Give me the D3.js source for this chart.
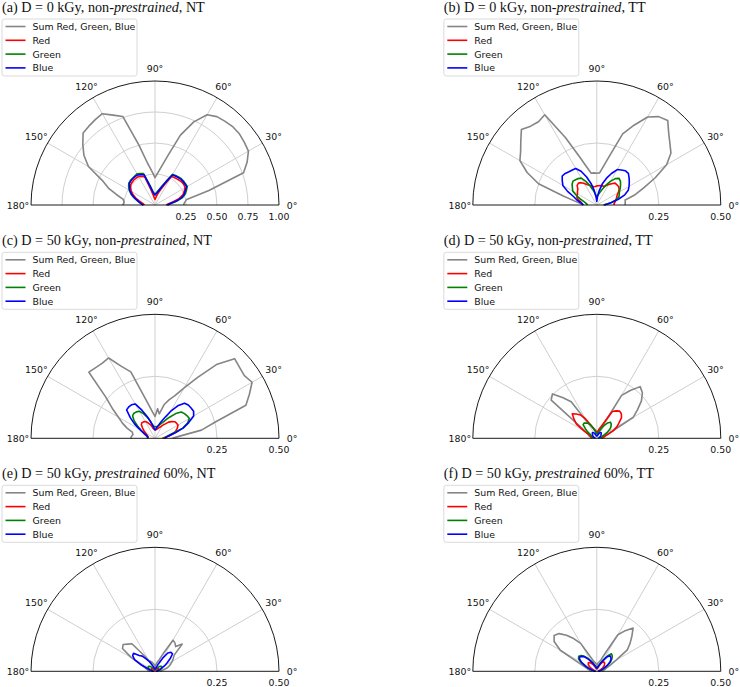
<!DOCTYPE html>
<html><head><meta charset="utf-8">
<script src="https://cdn.jsdelivr.net/npm/d3@7"></script>
<style>body{margin:0;background:#fff}svg{display:block}</style>
</head><body>
<svg id="chart" width="740" height="687"></svg>
<script>
// ---------- DATA ----------
const angles = [0,5,10,15,20,25,30,35,40,45,50,55,60,65,70,75,80,85,90,95,100,105,110,115,120,125,130,135,140,145,150,155,160,165,170,175,180];
const angleTicks = [0,30,60,90,120,150,180];
const rTicksFull = [0.25,0.50,0.75,1.00];
const rTicksHalf = [0.25,0.50];
const seriesNames = ["Sum Red, Green, Blue","Red","Green","Blue"];
const seriesColors = ["#858585","#ff0000","#008000","#0000ff"];

const titles = [
  [["(a) D = 0 kGy, non-",false],["prestrained",true],[", NT",false]],
  [["(b) D = 0 kGy, non-",false],["prestrained",true],[", TT",false]],
  [["(c) D = 50 kGy, non-",false],["prestrained",true],[", NT",false]],
  [["(d) D = 50 kGy, non-",false],["prestrained",true],[", TT",false]],
  [["(e) D = 50 kGy, ",false],["prestrained",true],[" 60%, NT",false]],
  [["(f) D = 50 kGy, ",false],["prestrained",true],[" 60%, TT",false]]
];
const rMaxes = [1.0,0.5,0.5,0.5,0.5,0.5];

const aSum  = [0.23,0.24,0.26,0.45,0.76,0.82,0.87,0.88,0.89,0.89,0.88,0.87,0.84,0.74,0.60,0.42,0.32,0.26,0.22,0.27,0.34,0.50,0.76,0.80,0.85,0.84,0.83,0.82,0.76,0.70,0.62,0.47,0.40,0.32,0.26,0.25,0.26];
const aRed  = [0.09,0.11,0.15,0.20,0.24,0.26,0.28,0.285,0.285,0.28,0.275,0.27,0.265,0.18,0.13,0.10,0.075,0.055,0.045,0.055,0.08,0.13,0.24,0.255,0.265,0.265,0.265,0.26,0.255,0.24,0.22,0.195,0.165,0.135,0.11,0.095,0.085];
const aGreen= [0.10,0.13,0.18,0.23,0.26,0.28,0.30,0.30,0.30,0.30,0.295,0.29,0.285,0.21,0.16,0.13,0.11,0.095,0.09,0.095,0.12,0.17,0.27,0.28,0.29,0.285,0.28,0.28,0.275,0.26,0.24,0.215,0.185,0.155,0.13,0.11,0.095];
const aBlue = [0.10,0.12,0.17,0.22,0.25,0.27,0.295,0.295,0.295,0.295,0.29,0.285,0.28,0.20,0.15,0.12,0.10,0.09,0.08,0.09,0.11,0.16,0.26,0.27,0.28,0.28,0.28,0.275,0.27,0.25,0.235,0.21,0.18,0.15,0.13,0.11,0.094];

const bSum  = [0.114,0.115,0.116,0.16,0.20,0.26,0.325,0.365,0.385,0.41,0.445,0.435,0.41,0.355,0.305,0.21,0.16,0.13,0.128,0.13,0.13,0.16,0.21,0.30,0.42,0.41,0.415,0.43,0.40,0.375,0.358,0.31,0.25,0.14,0.09,0.065,0.054];
const bRed  = [0.07,0.07,0.075,0.08,0.085,0.09,0.10,0.11,0.115,0.115,0.115,0.105,0.095,0.085,0.08,0.08,0.08,0.078,0.077,0.075,0.075,0.08,0.085,0.09,0.10,0.11,0.115,0.112,0.10,0.095,0.09,0.088,0.085,0.075,0.065,0.06,0.06];
const bGreen= [0.027,0.04,0.06,0.08,0.095,0.10,0.105,0.115,0.125,0.135,0.14,0.13,0.11,0.09,0.07,0.055,0.045,0.038,0.034,0.04,0.05,0.065,0.085,0.105,0.125,0.13,0.133,0.136,0.13,0.12,0.112,0.09,0.07,0.055,0.045,0.04,0.037];
const bBlue = [0.03,0.04,0.06,0.09,0.12,0.14,0.15,0.16,0.17,0.18,0.18,0.172,0.165,0.14,0.115,0.09,0.06,0.035,0.015,0.03,0.06,0.09,0.12,0.15,0.17,0.172,0.175,0.18,0.182,0.17,0.158,0.13,0.10,0.085,0.07,0.06,0.054];

const cSum  = [0.07,0.10,0.19,0.25,0.39,0.42,0.452,0.44,0.445,0.454,0.39,0.30,0.235,0.19,0.165,0.14,0.10,0.12,0.088,0.105,0.133,0.18,0.285,0.32,0.374,0.37,0.372,0.377,0.26,0.21,0.17,0.145,0.12,0.095,0.09,0.095,0.098];
const cRed  = [0.03,0.04,0.06,0.08,0.09,0.10,0.107,0.106,0.104,0.095,0.085,0.07,0.06,0.05,0.045,0.04,0.037,0.035,0.034,0.036,0.04,0.05,0.06,0.07,0.078,0.081,0.082,0.078,0.066,0.055,0.045,0.038,0.033,0.03,0.028,0.028,0.028];
const cGreen= [0.035,0.04,0.05,0.07,0.12,0.145,0.16,0.158,0.155,0.15,0.13,0.105,0.085,0.07,0.06,0.052,0.048,0.047,0.047,0.048,0.055,0.07,0.09,0.11,0.126,0.13,0.132,0.128,0.11,0.085,0.065,0.05,0.04,0.035,0.03,0.03,0.03];
const cBlue = [0.04,0.045,0.055,0.085,0.12,0.15,0.18,0.19,0.19,0.19,0.185,0.16,0.125,0.09,0.07,0.055,0.045,0.038,0.034,0.04,0.052,0.07,0.095,0.125,0.16,0.165,0.165,0.162,0.13,0.10,0.07,0.05,0.04,0.032,0.03,0.03,0.03];

const dSum  = [0.02,0.025,0.03,0.035,0.04,0.07,0.17,0.20,0.235,0.26,0.272,0.235,0.20,0.06,0.045,0.035,0.03,0.025,0.025,0.03,0.035,0.04,0.045,0.055,0.07,0.18,0.215,0.253,0.24,0.08,0.05,0.04,0.035,0.03,0.025,0.02,0.02];
const dRed  = [0.02,0.02,0.025,0.035,0.05,0.075,0.094,0.11,0.13,0.14,0.143,0.135,0.125,0.07,0.05,0.04,0.03,0.025,0.022,0.025,0.03,0.035,0.045,0.06,0.09,0.115,0.128,0.14,0.12,0.10,0.06,0.035,0.03,0.025,0.022,0.02,0.02];
const dGreen= [0.015,0.015,0.02,0.02,0.025,0.035,0.05,0.065,0.075,0.082,0.085,0.075,0.06,0.045,0.03,0.025,0.02,0.018,0.018,0.02,0.025,0.035,0.045,0.06,0.07,0.075,0.08,0.078,0.06,0.045,0.03,0.025,0.02,0.018,0.015,0.015,0.015];
const dBlue = [0.005,0.006,0.008,0.01,0.012,0.015,0.018,0.02,0.022,0.025,0.028,0.028,0.026,0.022,0.017,0.013,0.011,0.01,0.01,0.01,0.011,0.013,0.017,0.022,0.026,0.028,0.028,0.025,0.022,0.02,0.018,0.015,0.012,0.01,0.008,0.006,0.005];

const eSum  = [0.02,0.025,0.035,0.05,0.06,0.07,0.08,0.09,0.10,0.155,0.13,0.14,0.145,0.08,0.05,0.04,0.03,0.025,0.02,0.025,0.03,0.035,0.04,0.045,0.05,0.08,0.145,0.155,0.168,0.16,0.11,0.06,0.045,0.035,0.03,0.025,0.02];
const eRed  = [0.005,0.006,0.008,0.01,0.012,0.014,0.016,0.018,0.018,0.017,0.015,0.012,0.01,0.008,0.007,0.006,0.005,0.005,0.005,0.005,0.005,0.006,0.007,0.008,0.01,0.012,0.015,0.017,0.018,0.018,0.016,0.014,0.012,0.01,0.008,0.006,0.005];
const eGreen= [0.01,0.012,0.015,0.02,0.025,0.03,0.032,0.033,0.032,0.028,0.022,0.018,0.015,0.012,0.01,0.009,0.008,0.008,0.008,0.008,0.008,0.009,0.01,0.012,0.015,0.018,0.022,0.028,0.032,0.033,0.032,0.03,0.025,0.02,0.015,0.012,0.01];
const eBlue = [0.005,0.007,0.01,0.015,0.02,0.03,0.045,0.06,0.08,0.10,0.10,0.09,0.06,0.035,0.02,0.015,0.012,0.01,0.01,0.01,0.012,0.015,0.02,0.03,0.045,0.06,0.08,0.09,0.113,0.11,0.095,0.06,0.03,0.02,0.012,0.008,0.005];

const fSum  = [0.02,0.025,0.03,0.035,0.045,0.06,0.09,0.15,0.175,0.20,0.228,0.20,0.17,0.08,0.05,0.04,0.035,0.03,0.025,0.03,0.035,0.04,0.05,0.07,0.13,0.16,0.19,0.215,0.225,0.21,0.17,0.08,0.05,0.04,0.03,0.025,0.02];
const fRed  = [0.005,0.006,0.008,0.01,0.015,0.02,0.028,0.035,0.04,0.045,0.047,0.047,0.04,0.03,0.02,0.015,0.012,0.01,0.01,0.01,0.012,0.015,0.02,0.025,0.033,0.04,0.046,0.048,0.045,0.038,0.03,0.02,0.015,0.01,0.008,0.006,0.005];
const fGreen= [0.006,0.009,0.013,0.02,0.028,0.038,0.053,0.068,0.08,0.088,0.092,0.075,0.055,0.038,0.027,0.021,0.017,0.015,0.015,0.015,0.017,0.022,0.028,0.038,0.05,0.065,0.08,0.09,0.095,0.09,0.075,0.053,0.037,0.022,0.013,0.009,0.006];
const fBlue = [0.005,0.008,0.012,0.018,0.025,0.035,0.05,0.065,0.075,0.08,0.082,0.07,0.05,0.035,0.025,0.02,0.015,0.013,0.013,0.013,0.015,0.02,0.025,0.035,0.045,0.06,0.075,0.085,0.09,0.085,0.07,0.05,0.035,0.02,0.012,0.008,0.005];

const panelSeries = [
  [aSum,aRed,aGreen,aBlue],[bSum,bRed,bGreen,bBlue],
  [cSum,cRed,cGreen,cBlue],[dSum,dRed,dGreen,dBlue],
  [eSum,eRed,eGreen,eBlue],[fSum,fRed,fGreen,fBlue]
];

// ---------- LAYOUT ----------
const svg = d3.select("#chart");
const R = 124;
const colX = [155, 596.8];
const rowY = [205, 438.3, 671.3];
const sansFont = "'DejaVu Sans', sans-serif";
const serifFont = "'Liberation Serif', 'Times New Roman', serif";
const tickSize = 9.4;
const gridColor = "#cfcfcf";
const toD3 = deg => (90 - deg) * Math.PI / 180;

panelSeries.forEach((series, i) => {
  const cx = colX[i % 2], cy = rowY[Math.floor(i / 2)];
  const rMax = rMaxes[i];
  const rTicks = rMax === 1.0 ? rTicksFull : rTicksHalf;
  const r = d3.scaleLinear().domain([0, rMax]).range([0, R]);
  const g = svg.append("g").attr("transform", `translate(${cx},${cy})`);

  // radial grid circles
  rTicks.filter(t => t < rMax).forEach(t => {
    const p = d3.path();
    p.moveTo(r(t), 0);
    p.arc(0, 0, r(t), 0, -Math.PI, true);
    g.append("path").attr("d", p.toString()).attr("fill", "none")
      .attr("stroke", gridColor).attr("stroke-width", 1);
  });
  // angular grid spokes
  angleTicks.filter(a => a > 0 && a < 180).forEach(a => {
    const t = a * Math.PI / 180;
    g.append("line").attr("x1", 0).attr("y1", 0)
      .attr("x2", R * Math.cos(t)).attr("y2", -R * Math.sin(t))
      .attr("stroke", gridColor).attr("stroke-width", 1);
  });

  // data lines
  series.forEach((vals, k) => {
    const line = d3.lineRadial()
      .angle((d, j) => toD3(angles[j]))
      .radius(d => r(d));
    g.append("path").attr("d", line(vals)).attr("fill", "none")
      .attr("stroke", seriesColors[k]).attr("stroke-width", 1.6)
      .attr("stroke-linejoin", "round");
  });

  // frame
  const fp = d3.path();
  fp.moveTo(R, 0);
  fp.arc(0, 0, R, 0, -Math.PI, true);
  fp.closePath();
  g.append("path").attr("d", fp.toString()).attr("fill", "none")
    .attr("stroke", "#000").attr("stroke-width", 0.9);

  // angle labels
  angleTicks.forEach(a => {
    const t = a * Math.PI / 180, rr = R + 13;
    g.append("text").attr("x", rr * Math.cos(t)).attr("y", -rr * Math.sin(t))
      .attr("text-anchor", "middle").attr("dominant-baseline", "central")
      .attr("font-family", sansFont).attr("font-size", tickSize).attr("fill", "#111")
      .text(a + "°");
  });
  // radial labels
  rTicks.forEach(t => {
    g.append("text").attr("x", r(t)).attr("y", 11.5)
      .attr("text-anchor", "middle").attr("dominant-baseline", "central")
      .attr("font-family", sansFont).attr("font-size", tickSize).attr("fill", "#111")
      .text(t.toFixed(2));
  });

  // title
  const title = svg.append("text").attr("class", "ttl")
    .attr("x", cx - 153).attr("y", cy - 193.3)
    .attr("font-family", serifFont).attr("font-size", 13).attr("fill", "#111");
  titles[i].forEach(([s, it]) => {
    title.append("tspan").attr("font-style", it ? "italic" : "normal").text(s);
  });

  // legend
  const lx = cx - 153, ly = cy - 186;
  const lg = svg.append("g").attr("transform", `translate(${lx},${ly})`);
  lg.append("rect").attr("x", 0).attr("y", 0).attr("width", 135).attr("height", 57)
    .attr("rx", 2.5).attr("fill", "#fff").attr("fill-opacity", 0.8)
    .attr("stroke", "#d6d6d6").attr("stroke-width", 0.9);
  seriesNames.forEach((nm, k) => {
    const yy = 7.5 + k * 13.8;
    lg.append("line").attr("x1", 3.5).attr("x2", 23.5).attr("y1", yy).attr("y2", yy)
      .attr("stroke", seriesColors[k]).attr("stroke-width", 1.6);
    lg.append("text").attr("x", 30.5).attr("y", yy).attr("dominant-baseline", "central")
      .attr("font-family", sansFont).attr("font-size", tickSize).attr("fill", "#111").text(nm);
  });
});

// fit title font size so the first title spans ~203px like the original
const ttl = svg.selectAll("text.ttl");
const w0 = ttl.node().getComputedTextLength();
const fs = 13 * 203 / w0;
ttl.attr("font-size", fs);
</script>
</body></html>
